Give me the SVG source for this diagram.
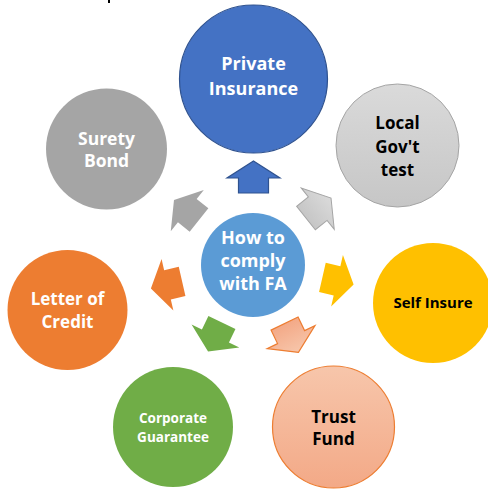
<svg xmlns="http://www.w3.org/2000/svg" width="488" height="490" viewBox="0 0 488 490">
<defs>
<linearGradient id="grayGrad" x1="0" y1="0" x2="0" y2="1">
<stop offset="0" stop-color="#dadada"/>
<stop offset="1" stop-color="#c6c6c6"/>
</linearGradient>
<linearGradient id="salmonGrad" x1="0" y1="0" x2="0" y2="1">
<stop offset="0" stop-color="#f7c6ab"/>
<stop offset="1" stop-color="#f3a987"/>
</linearGradient>
<polygon id="arrow" points="0,-16 26.5,1 15,1 15,16 -15,16 -15,1 -26.5,1"/>
</defs>
<style>
text{font-family:"Open Sans","Liberation Sans",sans-serif;font-weight:bold;text-anchor:middle}
.w{fill:#ffffff}
.b{fill:#000000}
</style>
<rect width="488" height="490" fill="#ffffff"/>
<rect x="108" y="0" width="2" height="3" fill="#000000"/>
<g id="connectors">
<use href="#arrow" transform="translate(253.5,177)" fill="#4472c4" stroke="#2f528f" stroke-width="1.2"/>
<use href="#arrow" transform="translate(318.5,208) rotate(51.43)" fill="url(#grayGrad)" stroke="#a5a5a5" stroke-width="1"/>
<use href="#arrow" transform="translate(338,281) rotate(102.86)" fill="#ffc000"/>
<use href="#arrow" transform="translate(291.5,338) rotate(154.29)" fill="url(#salmonGrad)" stroke="#ed7d31" stroke-width="1.2"/>
<use href="#arrow" transform="translate(215,337) rotate(205.71)" fill="#70ad47"/>
<use href="#arrow" transform="translate(166.5,285) rotate(257.14)" fill="#ed7d31"/>
<use href="#arrow" transform="translate(186.5,210) rotate(308.57)" fill="#a5a5a5"/>
</g>
<g id="center">
<circle cx="253" cy="265" r="52" fill="#5b9bd5"/>
<text class="w" x="253" y="244" font-size="18">How to</text>
<text class="w" x="253" y="267" font-size="18">comply</text>
<text class="w" x="253" y="290" font-size="18">with FA</text>
</g>
<g id="private-insurance">
<circle cx="253.5" cy="79" r="74" fill="#4472c4" stroke="#2f528f" stroke-width="1.2"/>
<text class="w" x="253.5" y="70" font-size="18">Private</text>
<text class="w" x="253.5" y="95" font-size="18">Insurance</text>
</g>
<g id="local-govt-test">
<circle cx="397.5" cy="145.5" r="61.5" fill="url(#grayGrad)" stroke="#a5a5a5" stroke-width="1"/>
<text class="b" x="397.5" y="129" font-size="17">Local</text>
<text class="b" x="397.5" y="153" font-size="17">Gov't</text>
<text class="b" x="397.5" y="176" font-size="17">test</text>
</g>
<g id="self-insure">
<circle cx="433" cy="303" r="60" fill="#ffc000"/>
<text class="b" x="433" y="308" font-size="15">Self Insure</text>
</g>
<g id="trust-fund">
<circle cx="333.5" cy="427" r="61" fill="url(#salmonGrad)" stroke="#ed7d31" stroke-width="1.2"/>
<text class="b" x="333.5" y="423" font-size="17">Trust</text>
<text class="b" x="333.5" y="445" font-size="17">Fund</text>
</g>
<g id="corporate-guarantee">
<circle cx="173" cy="427" r="60" fill="#70ad47"/>
<text class="w" x="173" y="423" font-size="13.5">Corporate</text>
<text class="w" x="173" y="442" font-size="13.5">Guarantee</text>
</g>
<g id="letter-of-credit">
<circle cx="67.5" cy="310" r="60" fill="#ed7d31"/>
<text class="w" x="67.5" y="305" font-size="17">Letter of</text>
<text class="w" x="67.5" y="328" font-size="17">Credit</text>
</g>
<g id="surety-bond">
<circle cx="106.5" cy="149" r="60.5" fill="#a5a5a5"/>
<text class="w" x="106.5" y="145" font-size="17.5">Surety</text>
<text class="w" x="106.5" y="167" font-size="17.5">Bond</text>
</g>
</svg>
